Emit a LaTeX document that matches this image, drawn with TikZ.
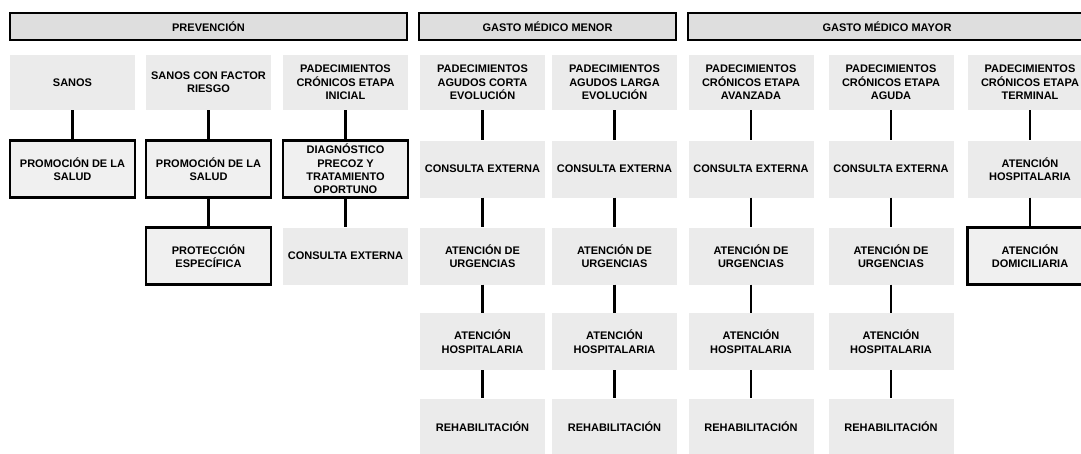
\documentclass[tikz,border=0pt]{standalone}
\usepackage{fontspec}
\setmainfont{Liberation Sans}
\begin{document}
\begin{tikzpicture}[x=1pt,y=-1pt,
 lbl/.style={font=\bfseries\fontsize{11}{13.4}\selectfont, align=center, inner sep=0pt, minimum width=125pt},
 spk/.style={lbl, fill=black!8},
 bx/.style={lbl, fill=black!6, draw=black, line width=2.4pt},
 hdr/.style={lbl, fill=black!13, draw=black, line width=2.6pt, minimum height=27pt},
 rA/.style={minimum height=55pt},
 rB/.style={minimum height=57pt},
 conn/.style={line width=2.2pt}]
\useasboundingbox (0,0) rectangle (1081,453);
% headers
\node[hdr, minimum width=397pt] (h1) at (208.5,26.5) {PREVENCIÓN};
\node[hdr, minimum width=257pt] (h2) at (547.5,26.5) {GASTO MÉDICO MENOR};
\node[hdr, minimum width=398pt] (h3) at (887,26.5) {GASTO MÉDICO MAYOR};
% column 0
\node[spk, rA] (a1) at (72.5,82.5) {SANOS};
\node[bx, rB] (a2) at (72.5,169) {PROMOCIÓN DE LA\\SALUD};
% column 1
\node[spk, rA] (b1) at (208.5,82.5) {SANOS CON FACTOR\\RIESGO};
\node[bx, rB] (b2) at (208.5,169) {PROMOCIÓN DE LA\\SALUD};
\node[bx, rB] (b3) at (208.5,256) {PROTECCIÓN\\ESPECÍFICA};
% column 2
\node[spk, rA] (c1) at (345.5,82.5) {PADECIMIENTOS\\CRÓNICOS ETAPA\\INICIAL};
\node[bx, rB] (c2) at (345.5,169) {DIAGNÓSTICO\\PRECOZ Y\\TRATAMIENTO\\OPORTUNO};
\node[spk, rB] (c3) at (345.5,256) {CONSULTA EXTERNA};
% column 3
\node[spk, rA] (d1) at (482.5,82.5) {PADECIMIENTOS\\AGUDOS CORTA\\EVOLUCIÓN};
\node[spk, rB] (d2) at (482.5,169) {CONSULTA EXTERNA};
\node[spk, rB] (d3) at (482.5,256) {ATENCIÓN DE\\URGENCIAS};
\node[spk, rB] (d4) at (482.5,341.5) {ATENCIÓN\\HOSPITALARIA};
\node[spk, rB] (d5) at (482.5,427) {REHABILITACIÓN};
% column 4
\node[spk, rA] (e1) at (614.5,82.5) {PADECIMIENTOS\\AGUDOS LARGA\\EVOLUCIÓN};
\node[spk, rB] (e2) at (614.5,169) {CONSULTA EXTERNA};
\node[spk, rB] (e3) at (614.5,256) {ATENCIÓN DE\\URGENCIAS};
\node[spk, rB] (e4) at (614.5,341.5) {ATENCIÓN\\HOSPITALARIA};
\node[spk, rB] (e5) at (614.5,427) {REHABILITACIÓN};
% column 5
\node[spk, rA] (f1) at (751,82.5) {PADECIMIENTOS\\CRÓNICOS ETAPA\\AVANZADA};
\node[spk, rB] (f2) at (751,169) {CONSULTA EXTERNA};
\node[spk, rB] (f3) at (751,256) {ATENCIÓN DE\\URGENCIAS};
\node[spk, rB] (f4) at (751,341.5) {ATENCIÓN\\HOSPITALARIA};
\node[spk, rB] (f5) at (751,427) {REHABILITACIÓN};
% column 6
\node[spk, rA] (g1) at (891,82.5) {PADECIMIENTOS\\CRÓNICOS ETAPA\\AGUDA};
\node[spk, rB] (g2) at (891,169) {CONSULTA EXTERNA};
\node[spk, rB] (g3) at (891,256) {ATENCIÓN DE\\URGENCIAS};
\node[spk, rB] (g4) at (891,341.5) {ATENCIÓN\\HOSPITALARIA};
\node[spk, rB] (g5) at (891,427) {REHABILITACIÓN};
% column 7
\node[spk, rA] (t1) at (1030,82.5) {PADECIMIENTOS\\CRÓNICOS ETAPA\\TERMINAL};
\node[spk, rB] (t2) at (1030,169) {ATENCIÓN\\HOSPITALARIA};
\node[bx, rB] (t3) at (1030,256) {ATENCIÓN\\DOMICILIARIA};
% connectors
\draw[conn] (a1.south) -- (a2.north);
\draw[conn] (b1.south) -- (b2.north);
\draw[conn] (b2.south) -- (b3.north);
\draw[conn] (c1.south) -- (c2.north);
\draw[conn] (c2.south) -- (c3.north);
\foreach \k in {d,e,f,g}{
  \draw[conn] (\k1.south) -- (\k2.north);
  \draw[conn] (\k2.south) -- (\k3.north);
  \draw[conn] (\k3.south) -- (\k4.north);
  \draw[conn] (\k4.south) -- (\k5.north);
}
\draw[conn] (t1.south) -- (t2.north);
\draw[conn] (t2.south) -- (t3.north);
\end{tikzpicture}
\end{document}
